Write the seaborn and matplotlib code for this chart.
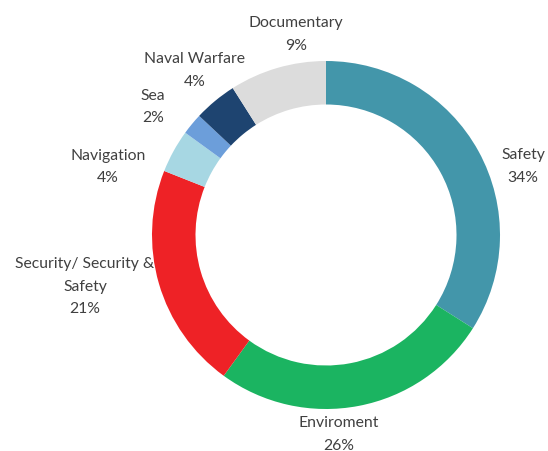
import matplotlib
matplotlib.use("Agg")
import matplotlib.pyplot as plt
import seaborn as sns

categories = ["Safety", "Enviroment", "Security/ Security &\nSafety", "Navigation", "Sea", "Naval Warfare", "Documentary"]
values = [34, 26, 21, 4, 2, 4, 9]
colors = ["#4396AA", "#1BB461", "#EE2226", "#A7D7E3", "#6C9EDA", "#1E4470", "#DCDCDC"]

sns.set_theme(style="white")
plt.rcParams['font.family'] = ['Lato', 'DejaVu Sans']
sns.set_palette(colors)

W, H = 548, 451
fig = plt.figure(figsize=(W / 100, H / 100), dpi=100)
ax = fig.add_axes([0, 0, 1, 1])

cx, cy, R = 326, 235, 174
ax.pie(values, colors=sns.color_palette(colors), startangle=90, counterclock=False,
       radius=1, wedgeprops=dict(width=0.25, linewidth=0), center=(0, 0))
ax.set_aspect('auto')
ax.set_xlim(-cx / R, (W - cx) / R)
ax.set_ylim(-(H - cy) / R, cy / R)
ax.axis('off')

# label anchor positions (pixels, top-left origin) for first line
label_pos = [(523, 155), (339, 423), (85, 264), (108, 156), (153, 96), (195, 59), (296, 23)]
tc = "#404040"
for name, v, (px, py) in zip(categories, values, label_pos):
    lines = name.split("\n") + [f"{v}%"]
    for i, ln in enumerate(lines):
        fig.text(px / W, 1 - (py + i * 22.5) / H, ln, ha='center', va='center',
                 fontsize=11.3, color=tc)

fig.savefig("out.png", dpi=100)
